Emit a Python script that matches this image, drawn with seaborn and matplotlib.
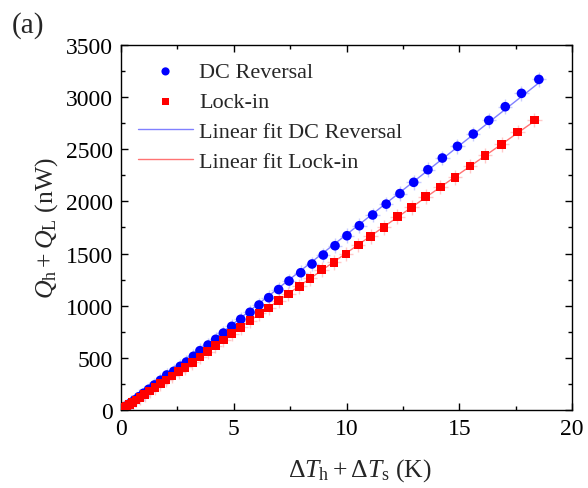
import numpy as np
import pandas as pd
import matplotlib
matplotlib.use("Agg")
import matplotlib.pyplot as plt
from matplotlib.ticker import MultipleLocator
import seaborn as sns

# Measured heat flow vs. summed temperature rise
dc_dT = [0.02, 0.05, 0.11, 0.20, 0.31, 0.44, 0.60, 0.79, 1.00, 1.23, 1.48, 1.75,
         2.03, 2.34, 2.63, 2.90, 3.21, 3.50, 3.86, 4.20, 4.54, 4.91, 5.31, 5.72,
         6.12, 6.55, 6.99, 7.45, 7.97, 8.47, 8.97, 9.49, 10.02, 10.57, 11.16,
         11.76, 12.37, 12.98, 13.61, 14.25, 14.92, 15.62, 16.31, 17.04, 17.76, 18.53]
dc_Q = [3, 8, 17, 32, 49, 70, 96, 127, 161, 199, 240, 285,
        336, 371, 419, 460, 515, 569, 623, 678, 738, 802, 870, 937,
        1007, 1077, 1155, 1237, 1316, 1400, 1486, 1575, 1671, 1767, 1870,
        1974, 2075, 2183, 2304, 2416, 2528, 2646, 2777, 2908, 3036, 3170]

li_dT = [0.01, 0.03, 0.08, 0.15, 0.25, 0.37, 0.51, 0.67, 0.85, 1.05, 1.27, 1.50,
         1.75, 2.00, 2.27, 2.55, 2.84, 3.16, 3.50, 3.84, 4.18, 4.54, 4.91, 5.31,
         5.72, 6.13, 6.55, 6.99, 7.42, 7.91, 8.39, 8.90, 9.45, 9.98, 10.52, 11.07,
         11.66, 12.26, 12.89, 13.51, 14.16, 14.82, 15.48, 16.15, 16.88, 17.59, 18.33]
li_Q = [1, 4, 12, 22, 36, 53, 73, 96, 122, 151, 183, 216,
        252, 288, 327, 367, 409, 457, 508, 559, 616, 671, 732, 793,
        856, 927, 978, 1048, 1112, 1186, 1263, 1345, 1416, 1496, 1582, 1665,
        1752, 1855, 1943, 2045, 2138, 2231, 2339, 2442, 2547, 2665, 2780]

x_err = 0.32
y_err = 70

x_ticks = [0, 5, 10, 15, 20]
y_ticks = [0, 500, 1000, 1500, 2000, 2500, 3000, 3500]

sns.set_theme(style="ticks")
plt.rcParams["font.family"] = ["Liberation Serif", "DejaVu Serif"]
plt.rcParams["mathtext.fontset"] = "custom"
plt.rcParams["mathtext.it"] = "Liberation Serif:italic"
plt.rcParams["mathtext.rm"] = "Liberation Serif"

fig = plt.figure(figsize=(5.88, 4.89), dpi=100)
ax = fig.add_axes([0.2058, 0.1595, 0.767, 0.7465])

df_dc = pd.DataFrame({"dT": dc_dT, "Q": dc_Q})
df_li = pd.DataFrame({"dT": li_dT, "Q": li_Q})

# faint error crosses
ax.errorbar(df_dc["dT"], df_dc["Q"], xerr=x_err, yerr=y_err, fmt="none",
            ecolor=(0.65, 0.68, 1.0), alpha=0.6, elinewidth=1.0, zorder=1)
ax.errorbar(df_li["dT"], df_li["Q"], xerr=x_err, yerr=y_err, fmt="none",
            ecolor=(1.0, 0.65, 0.65), alpha=0.6, elinewidth=1.0, zorder=1)

# linear fits
fit_dc = np.polyfit(dc_dT, dc_Q, 1)
fit_li = np.polyfit(li_dT, li_Q, 1)
xf_dc = np.array([0.0, 18.7])
xf_li = np.array([0.0, 18.5])
sns.lineplot(x=xf_dc, y=np.polyval(fit_dc, xf_dc), ax=ax, color=(0.5, 0.5, 1.0),
             linewidth=1.0, zorder=2, label="Linear fit DC Reversal")
sns.lineplot(x=xf_li, y=np.polyval(fit_li, xf_li), ax=ax, color=(1.0, 0.45, 0.45),
             linewidth=1.0, zorder=2, label="Linear fit Lock-in")

sns.scatterplot(data=df_dc, x="dT", y="Q", ax=ax, color="#0000ff", marker="o",
                s=48, edgecolor="none", zorder=3, label="DC Reversal")
sns.scatterplot(data=df_li, x="dT", y="Q", ax=ax, color="#ff0000", marker="s",
                s=38, edgecolor="none", zorder=3, label="Lock-in")

ax.set_xlim(0, 20)
ax.set_ylim(0, 3500)
ax.set_xticks(x_ticks)
ax.set_yticks(y_ticks)
ax.xaxis.set_minor_locator(MultipleLocator(2.5))
ax.yaxis.set_minor_locator(MultipleLocator(250))
ax.tick_params(which="both", direction="in", top=True, right=True,
               labelsize=17, colors="black", width=1.0)
ax.tick_params(which="major", length=5, pad=6)
ax.tick_params(which="minor", length=3)
for sp in ax.spines.values():
    sp.set_color("black")
    sp.set_linewidth(1.0)

ax.set_xlabel(r"$\Delta T_\mathrm{h} + \Delta T_\mathrm{s}$ (K)", fontsize=18.5, labelpad=8)
ax.set_ylabel(r"$Q_\mathrm{h} + Q_\mathrm{L}$ (nW)", fontsize=18.5, labelpad=4)
ax.xaxis.set_label_coords(0.529, -0.127)

handles, labels = ax.get_legend_handles_labels()
order = ["DC Reversal", "Lock-in", "Linear fit DC Reversal", "Linear fit Lock-in"]
hmap = dict(zip(labels, handles))
ax.legend([hmap[k] for k in order], order, loc="upper left",
          bbox_to_anchor=(-0.006, 1.009), frameon=False, fontsize=16,
          handlelength=2.45, handletextpad=0.28, labelspacing=0.42,
          markerscale=0.85)

fig.text(0.02, 0.975, "(a)", fontsize=21, va="top", ha="left")

fig.savefig("out.png", dpi=100)
